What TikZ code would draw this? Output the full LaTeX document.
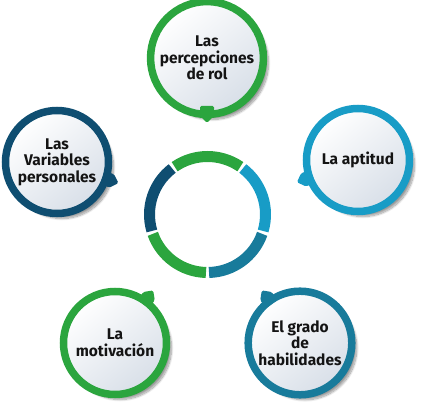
\documentclass[tikz,border=0pt]{standalone}
\usepackage{fontspec}
\setmainfont{Fira Sans}
\usetikzlibrary{calc, shadows.blur}

\definecolor{leafgreen}{HTML}{2BA53E}
\definecolor{skyblue}{HTML}{189CC6}
\definecolor{tealblue}{HTML}{187B9B}
\definecolor{navyblue}{HTML}{0F4E71}
\definecolor{softgray}{HTML}{D8DFE8}
\definecolor{inkblack}{HTML}{141414}

\begin{document}
\begin{tikzpicture}[
    x=1pt,
    y=1pt,
    bubble/.style={
        circle,
        draw=#1,
        line width=7.5pt,
        minimum size=103pt,
        top color=white,
        middle color=white,
        bottom color=softgray,
        shading angle=40,
        blur shadow={shadow xshift=5pt, shadow yshift=-5pt, shadow blur steps=12, shadow opacity=40},
        align=center,
        text=inkblack,
        font=\bfseries\fontsize{15.5}{16.5}\selectfont,
    },
    tab/.style={
        fill=#1,
        rounded corners=1.5pt,
    },
    segment/.style={
        draw=#1,
        line width=11pt,
    },
]

    \useasboundingbox (0,0) rectangle (426,412);

    \coordinate (hub) at (207.5,197.5);

    % central ring
    \foreach \start/\col in {54/leafgreen, -18/skyblue, -90/tealblue, -162/leafgreen, 126/navyblue}
        \draw[segment=\col] ($(hub)+(\start+1.5:58)$) arc[start angle=\start+1.5, delta angle=69, radius=58];

    \node[bubble=leafgreen] (roles) at (207,354) {Las\\percepciones\\de rol};
    \node[bubble=navyblue] (traits) at (57,250) {Las\\Variables\\personales};
    \node[bubble=skyblue] (aptitude) at (358,252) {La aptitud};
    \node[bubble=tealblue] (skills) at (300,69) {El grado\\de\\habilidades};
    \node[bubble=leafgreen] (drive) at (115,69) {La\\motivación};

    % pointers toward the ring
    \foreach \name/\angle/\col in {roles/-90/leafgreen, traits/-19/navyblue, aptitude/-160/skyblue, skills/126/tealblue, drive/54/leafgreen}
        \fill[tab=\col, shift={(\name.center)}, rotate=\angle] (48,-7) -- (58,-7) -- (65,0) -- (58,7) -- (48,7) -- cycle;

\end{tikzpicture}
\end{document}
